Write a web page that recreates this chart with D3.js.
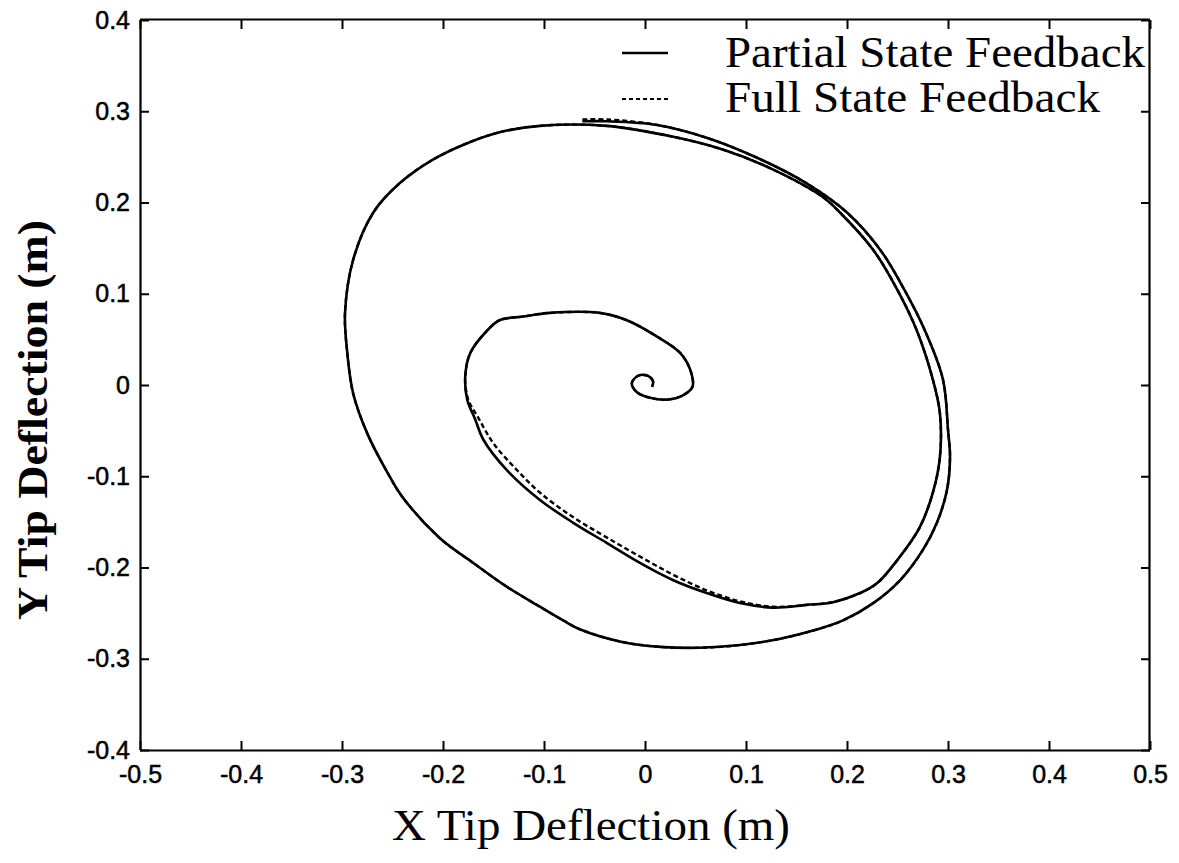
<!DOCTYPE html>
<html><head><meta charset="utf-8">
<script src="https://cdn.jsdelivr.net/npm/d3@7"></script>
<style>body{margin:0;background:#fff;}svg{display:block;}</style>
</head><body>
<script>
// Axis ticks
const xTicks = [-0.5,-0.4,-0.3,-0.2,-0.1,0,0.1,0.2,0.3,0.4,0.5];
const yTicks = [-0.4,-0.3,-0.2,-0.1,0,0.1,0.2,0.3,0.4];
const xTickLabels = ["-0.5","-0.4","-0.3","-0.2","-0.1","0","0.1","0.2","0.3","0.4","0.5"];
const yTickLabels = ["-0.4","-0.3","-0.2","-0.1","0","0.1","0.2","0.3","0.4"];
const seriesNames = ["Partial State Feedback","Full State Feedback"];

// Partial state feedback trajectory (x, y) in metres
const partialX = [-0.062,-0.038,0.012,0.061,0.111,0.160,0.200,0.233,0.257,0.277,0.295,0.300,0.302,0.299,0.289,0.275,0.2525,0.226,0.196,0.170,0.134,0.094,0.054,0.015,-0.025,-0.064,-0.081,-0.104,-0.137,-0.170,-0.203,-0.240,-0.255,-0.275,-0.289,-0.295,-0.297,-0.289,-0.269,-0.243,-0.210,-0.176,-0.144,-0.104,-0.038,0.028,0.077,0.127,0.176,0.193,0.226,0.250,0.269,0.285,0.292,0.292,0.285,0.272,0.2525,0.230,0.213,0.186,0.160,0.127,0.094,0.061,0.028,-0.005,-0.038,-0.071,-0.104,-0.137,-0.160,-0.168,-0.176,-0.178,-0.173,-0.156,-0.144,-0.121,-0.094,-0.045,-0.018,0.012,0.035,0.045,0.047,0.038,0.022,0.005,-0.008,-0.013,-0.007,0.003,0.008,0.007];
const partialY = [0.289,0.289,0.285,0.271,0.249,0.221,0.189,0.148,0.104,0.060,0.006,-0.049,-0.079,-0.115,-0.151,-0.181,-0.214,-0.239,-0.258,-0.268,-0.278,-0.285,-0.288,-0.287,-0.281,-0.268,-0.258,-0.243,-0.221,-0.195,-0.168,-0.123,-0.096,-0.053,-0.009,0.038,0.079,0.137,0.189,0.221,0.247,0.265,0.277,0.284,0.284,0.272,0.258,0.236,0.206,0.189,0.148,0.104,0.060,0.006,-0.031,-0.079,-0.118,-0.156,-0.188,-0.217,-0.228,-0.238,-0.241,-0.244,-0.239,-0.228,-0.214,-0.195,-0.173,-0.151,-0.126,-0.093,-0.060,-0.038,-0.016,0.009,0.035,0.060,0.071,0.075,0.079,0.079,0.071,0.053,0.035,0.016,-0.002,-0.011,-0.016,-0.014,-0.008,0.002,0.010,0.010,0.004,-0.002];

// Full state feedback trajectory (x, y) in metres
const fullX = [-0.062,-0.038,0.012,0.061,0.111,0.160,0.200,0.233,0.257,0.277,0.295,0.300,0.302,0.299,0.289,0.275,0.2525,0.226,0.196,0.170,0.134,0.094,0.054,0.015,-0.025,-0.064,-0.081,-0.104,-0.137,-0.170,-0.203,-0.240,-0.255,-0.275,-0.289,-0.295,-0.297,-0.289,-0.269,-0.243,-0.210,-0.176,-0.144,-0.104,-0.038,0.028,0.077,0.127,0.176,0.193,0.226,0.250,0.269,0.285,0.292,0.292,0.285,0.272,0.2525,0.230,0.213,0.186,0.160,0.127,0.094,0.061,0.028,-0.005,-0.038,-0.071,-0.104,-0.127,-0.150,-0.165,-0.175,-0.178,-0.173,-0.156,-0.144,-0.121,-0.094,-0.045,-0.018,0.012,0.035,0.045,0.047,0.038,0.022,0.005,-0.008,-0.013,-0.007,0.003,0.008,0.007];
const fullY = [0.291,0.291,0.285,0.271,0.249,0.221,0.189,0.148,0.104,0.060,0.006,-0.049,-0.079,-0.115,-0.151,-0.181,-0.214,-0.239,-0.258,-0.268,-0.278,-0.285,-0.288,-0.287,-0.281,-0.268,-0.258,-0.243,-0.221,-0.195,-0.168,-0.123,-0.096,-0.053,-0.009,0.038,0.079,0.137,0.189,0.221,0.247,0.265,0.277,0.284,0.284,0.272,0.258,0.236,0.206,0.189,0.148,0.104,0.060,0.006,-0.031,-0.079,-0.118,-0.156,-0.188,-0.217,-0.228,-0.238,-0.241,-0.243,-0.237,-0.225,-0.208,-0.188,-0.167,-0.145,-0.118,-0.093,-0.064,-0.036,-0.016,0.009,0.035,0.060,0.071,0.075,0.079,0.079,0.071,0.053,0.035,0.016,-0.002,-0.011,-0.016,-0.014,-0.008,0.002,0.010,0.010,0.004,-0.002];

const W = 1179, H = 863;
const m = {left:140, right:1150, top:20, bottom:750};
const svg = d3.select("body").append("svg").attr("width",W).attr("height",H);
const x = d3.scaleLinear().domain([-0.5,0.5]).range([m.left,m.right]);
const y = d3.scaleLinear().domain([-0.4,0.4]).range([m.bottom,m.top]);

const tickFont = "'Liberation Sans', Arial, sans-serif";
const serif = "'Liberation Serif', 'Times New Roman', serif";

// axes with inward ticks
const gx = svg.append("g").attr("transform",`translate(0,${m.bottom})`)
  .call(d3.axisBottom(x).tickValues(xTicks).tickSize(-9).tickPadding(15).tickFormat((d,i)=>xTickLabels[i]));
const gxt = svg.append("g").attr("transform",`translate(0,${m.top})`)
  .call(d3.axisTop(x).tickValues(xTicks).tickSize(-9).tickFormat(""));
const gy = svg.append("g").attr("transform",`translate(${m.left},0)`)
  .call(d3.axisLeft(y).tickValues(yTicks).tickSize(-9).tickPadding(10).tickFormat((d,i)=>yTickLabels[i]));
const gyr = svg.append("g").attr("transform",`translate(${m.right},0)`)
  .call(d3.axisRight(y).tickValues(yTicks).tickSize(-9).tickFormat(""));
[gx,gxt,gy,gyr].forEach(g=>{
  g.selectAll(".domain").attr("stroke","#000").attr("stroke-width",2.2);
  g.selectAll(".tick line").attr("stroke","#000").attr("stroke-width",2);
  g.selectAll("text").attr("font-family",tickFont).attr("font-size",25).attr("fill","#000")
    .attr("stroke","#000").attr("stroke-width",0.5);
});
gy.selectAll(".domain").attr("d",`M0.5,${m.bottom}V${m.top}`);
gyr.selectAll(".domain").attr("d",`M-0.5,${m.bottom}V${m.top}`);
gx.selectAll(".domain").attr("d",`M${m.left},0.5H${m.right}`);
gxt.selectAll(".domain").attr("d",`M${m.left},-0.5H${m.right}`);

const line = d3.line().x(d=>x(d[0])).y(d=>y(d[1])).curve(d3.curveCatmullRom.alpha(0.5));
const partial = partialX.map((v,i)=>[v,partialY[i]]);
const full = fullX.map((v,i)=>[v,fullY[i]]);

svg.append("path").datum(partial).attr("d",line).attr("fill","none")
  .attr("stroke","#000").attr("stroke-width",2.6);
svg.append("path").datum(full).attr("d",line).attr("fill","none")
  .attr("stroke","#000").attr("stroke-width",2.4).attr("stroke-dasharray","5,3");

// legend
const leg = svg.append("g");
leg.append("line").attr("x1",622).attr("x2",668).attr("y1",53).attr("y2",53)
  .attr("stroke","#000").attr("stroke-width",2.4);
leg.append("line").attr("x1",622).attr("x2",668).attr("y1",99).attr("y2",99)
  .attr("stroke","#000").attr("stroke-width",2.2).attr("stroke-dasharray","4,3");
leg.append("text").attr("x",725).attr("y",67).text(seriesNames[0])
  .attr("font-family",serif).attr("font-size",44).attr("textLength",420).attr("lengthAdjust","spacingAndGlyphs");
leg.append("text").attr("x",725).attr("y",112).text(seriesNames[1])
  .attr("font-family",serif).attr("font-size",44).attr("textLength",375).attr("lengthAdjust","spacingAndGlyphs");

// axis titles
svg.append("text").attr("x",392).attr("y",840).text("X Tip Deflection (m)")
  .attr("font-family",serif).attr("font-size",44).attr("textLength",398).attr("lengthAdjust","spacingAndGlyphs");
svg.append("text").attr("transform","translate(47,620) rotate(-90)").text("Y Tip Deflection (m)")
  .attr("font-family",serif).attr("font-size",42).attr("font-weight","bold").attr("textLength",400).attr("lengthAdjust","spacingAndGlyphs");
</script>
</body></html>
